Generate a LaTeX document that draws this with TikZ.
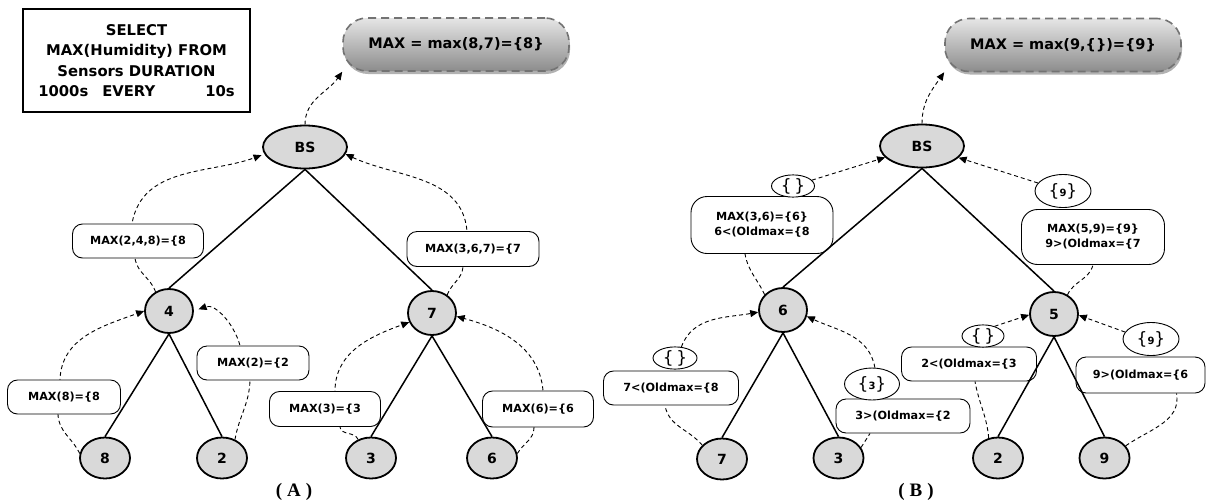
\documentclass[tikz,border=0pt]{standalone}
\usepackage{fontspec}
\setmainfont{DejaVu Sans}
\newfontfamily\capfont{Liberation Serif}
\usetikzlibrary{shapes.geometric,arrows.meta,backgrounds,shadows}
\begin{document}
\begin{tikzpicture}[x=1pt,y=1pt,
  tnode/.style={ellipse,draw,line width=1.8pt,fill=gray!30,inner sep=0pt,font=\fontsize{14}{16}\selectfont\bfseries},
  leaf/.style={tnode,minimum width=50pt,minimum height=41pt},
  mid/.style={tnode,minimum width=48pt,minimum height=44pt},
  root/.style={tnode,minimum width=84pt,minimum height=43pt},
  lab/.style={draw,fill=white,rounded corners=10pt,line width=0.9pt,inner sep=0pt,align=center,font=\fontsize{11.2}{15}\selectfont\bfseries},
  sm/.style={ellipse,draw,fill=white,line width=0.9pt,inner sep=0pt,font=\fontsize{17}{17}\selectfont},
  msg/.style={dash pattern=on 4pt off 3pt,line width=0.9pt},
  arr/.style={msg,-{Triangle[length=8pt,width=7pt]}},
  tree/.style={line width=1.5pt},
  qbox/.style={draw,line width=1.3pt,minimum width=227pt,minimum height=103pt,inner sep=0pt,align=center,font=\fontsize{14.8}{20.3}\selectfont\bfseries},
  pill/.style={draw=black!55,line width=1.6pt,dash pattern=on 8pt off 5pt,rounded corners=24pt,top color=gray!20,middle color=white,bottom color=gray!90,
    drop shadow={shadow xshift=1pt,shadow yshift=-3pt,fill=gray!60,opacity=1},
    minimum height=53pt,inner sep=0pt,font=\fontsize{14.5}{16}\selectfont\bfseries},
  captext/.style={font=\capfont\bfseries\fontsize{19}{19}\selectfont}
]
\useasboundingbox (0,0) rectangle (1206,-501);

% ---------- (A) ----------
\node[qbox] (query) at (136.5,-60.5) {SELECT\\MAX(Humidity) FROM\\Sensors DURATION\\1000s\hspace{14pt}EVERY\hspace{50pt}10s};
\node[pill,minimum width=226pt] (pA) at (456,-44.5) {MAX = max(8,7)=\{8\}};

\node[root] (bsA) at (305,-147) {BS};
\node[mid] (n4) at (169,-311) {4};
\node[mid] (n7) at (432,-313) {7};
\node[leaf] (n8) at (105,-458) {8};
\node[leaf] (n2) at (222,-458) {2};
\node[leaf] (n3) at (371,-458) {3};
\node[leaf] (n6) at (492,-458) {6};

\node[lab,minimum width=131pt,minimum height=34pt] (L248) at (138,-241) {MAX(2,4,8)=\{8};
\node[lab,minimum width=113pt,minimum height=34pt] (L8) at (64,-397) {MAX(8)=\{8};
\node[lab,minimum width=112pt,minimum height=34pt] (L2) at (253,-363) {MAX(2)=\{2};
\node[lab,minimum width=111pt,minimum height=35pt] (L3) at (325,-409) {MAX(3)=\{3};
\node[lab,minimum width=132pt,minimum height=35pt] (L367) at (473,-249) {MAX(3,6,7)=\{7};
\node[lab,minimum width=111pt,minimum height=36pt] (L6) at (538,-409) {MAX(6)=\{6};

\node[captext] (capA) at (294,-492) {(\hspace{5pt}A\hspace{5pt})};

% ---------- (B) ----------
\node[pill,minimum width=236pt] (pB) at (1063,-45) {MAX = max(9,\{\})=\{9\}};

\node[root] (bsB) at (922,-146) {BS};
\node[mid] (m6) at (783,-310) {6};
\node[mid] (m5) at (1054,-314) {5};
\node[leaf] (m7) at (722,-459) {7};
\node[leaf] (m3) at (838.5,-458) {3};
\node[leaf] (m2) at (998,-458) {2};
\node[leaf] (m9) at (1104.5,-458) {9};

\node[lab,rounded corners=16pt,minimum width=142pt,minimum height=57pt] (K6) at (762,-225) {MAX(3,6)=\{6\}\\6<(Oldmax=\{8};
\node[lab,rounded corners=16pt,minimum width=143pt,minimum height=55pt] (K5) at (1093,-237) {MAX(5,9)=\{9\}\\9>(Oldmax=\{7};
\node[lab,minimum width=135pt,minimum height=34pt] (K7) at (671,-388) {7<(Oldmax=\{8};
\node[lab,minimum width=134pt,minimum height=34pt] (K3) at (903,-416) {3>(Oldmax=\{2};
\node[lab,minimum width=135pt,minimum height=34pt] (K2) at (969,-364) {2<(Oldmax=\{3};
\node[lab,minimum width=129pt,minimum height=36pt] (K9) at (1140.5,-375) {9>(Oldmax=\{6};

\node[sm,minimum width=43pt,minimum height=22pt] (e6) at (793,-186) {\{\,\}};
\node[sm,minimum width=56pt,minimum height=33pt] (e5) at (1063,-191) {\{{\fontsize{10}{10}\selectfont\bfseries 9}\}};
\node[sm,minimum width=44pt,minimum height=21pt] (e7) at (675,-358) {\{\,\}};
\node[sm,minimum width=55pt,minimum height=32pt] (e3) at (872,-384) {\{{\fontsize{10}{10}\selectfont\bfseries 3}\}};
\node[sm,minimum width=42pt,minimum height=22pt] (e2) at (983,-336) {\{\,\}};
\node[sm,minimum width=56pt,minimum height=33pt] (e9) at (1151,-339) {\{{\fontsize{10}{10}\selectfont\bfseries 9}\}};

\node[captext] (capB) at (916,-492) {(\hspace{5pt}B\hspace{5pt})};

% ---------- tree edges ----------
\draw[tree] (bsA.south) -- (n4.north);
\draw[tree] (bsA.south) -- (n7.north);
\draw[tree] (n4.south) -- (n8.north);
\draw[tree] (n4.south) -- (n2.north);
\draw[tree] (n7.south) -- (n3.north);
\draw[tree] (n7.south) -- (n6.north);
\draw[tree] (bsB.south) -- (m6.north);
\draw[tree] (bsB.south) -- (m5.north);
\draw[tree] (m6.south) -- (m7.north);
\draw[tree] (m6.south) -- (m3.north);
\draw[tree] (m5.south) -- (m2.north);
\draw[tree] (m5.south) -- (m9.north);

% ---------- message connectors ----------
\begin{scope}[on background layer]
\draw[arr] (n8.170) to[out=115,in=-88] ([xshift=-6pt]L8.south) -- ([xshift=-4pt]L8.north) to[out=88,in=200] (n4.west);
\draw[arr,shorten >=5pt] (n2.55) to[out=80,in=-92] ([xshift=-3pt]L2.south) -- ([xshift=-13pt]L2.north) to[out=105,in=20] (n4.east);
\draw[arr,shorten >=3pt] (n4.125) to[out=110,in=-80] ([xshift=-3pt]L248.south) -- ([xshift=-6pt]L248.north) to[out=80,in=200] (bsA.190);
\draw[arr] (n3.125) to[out=110,in=-85] ([xshift=15pt]L3.south) -- ([xshift=10pt]L3.north) to[out=90,in=200] (n7.202);
\draw[arr] (n6.10) to[out=60,in=-90] ([xshift=-4pt]L6.south) -- ([xshift=5pt]L6.north) to[out=95,in=-15] (n7.-8);
\draw[arr] (n7.50) to[out=70,in=-95] ([xshift=-10pt]L367.south) -- ([xshift=-6pt]L367.north) to[out=95,in=-25] (bsA.-10);
\draw[arr] (bsA.north) to[out=90,in=235] (pA.south west);

\draw[arr] (bsB.north) to[out=90,in=235] (pB.south west);
\draw[arr] (e6) -- (bsB);
\draw[msg] (m6.140) to[out=115,in=-80] ([xshift=-17pt]K6.south);
\draw[arr] (e5) -- (bsB);
\draw[msg] (m5.55) to[out=65,in=-105] (K5.south);
\draw[arr] (e7.60) to[out=70,in=190] (m6.185);
\draw[msg] (m7.145) to[out=130,in=-80] ([xshift=-6pt]K7.south);
\draw[arr] (e3.80) to[out=100,in=-25] (m6.-15);
\draw[msg] (m3.25) -- ([xshift=-33pt]K3.south);
\draw[arr] (e2.40) -- (m5.182);
\draw[msg] (m2.115) to[out=95,in=-80] ([xshift=6pt]K2.south);
\draw[arr] (e9.165) -- (m5.-3);
\draw[msg] (m9.30) to[out=35,in=-80] ([xshift=36pt]K9.south);
\end{scope}
\end{tikzpicture}
\end{document}
